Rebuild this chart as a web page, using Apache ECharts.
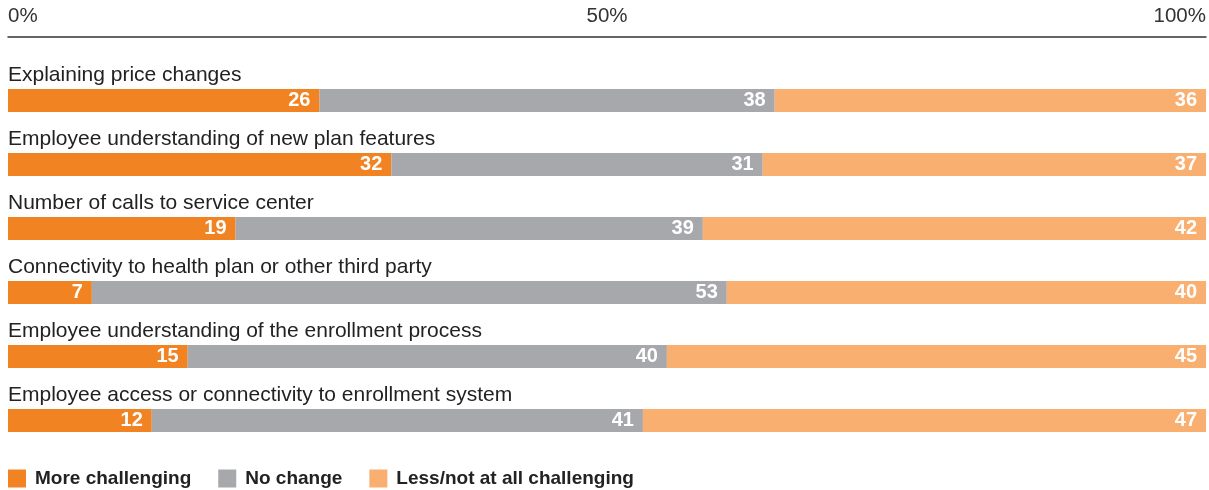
<!DOCTYPE html>
<html><head><meta charset="utf-8">
<script src="https://cdn.jsdelivr.net/npm/echarts@6/dist/echarts.min.js"></script>
<style>html,body{margin:0;padding:0;background:#fff}#c{width:1209px;height:490px}</style>
</head><body><div id="c"></div>
<script>
const categories = [
  "Explaining price changes",
  "Employee understanding of new plan features",
  "Number of calls to service center",
  "Connectivity to health plan or other third party",
  "Employee understanding of the enrollment process",
  "Employee access or connectivity to enrollment system"
];
const seriesNames = ["More challenging", "No change", "Less/not at all challenging"];
const moreChallenging = [26, 32, 19, 7, 15, 12];
const noChange = [38, 31, 39, 53, 40, 41];
const lessChallenging = [36, 37, 42, 40, 45, 47];
const xTicks = [0, 50, 100];
const colors = ["#F28322", "#A7A8AB", "#F9AF70"];

const chart = echarts.init(document.getElementById('c'));
const font = "'Liberation Sans', Arial, sans-serif";
function barSeries(name, data, color) {
  return {
    name, type: 'bar', stack: 'total', data, barWidth: 23,
    itemStyle: { color },
    label: {
      show: true, position: 'insideRight', distance: 9,
      color: '#fff', fontWeight: 'bold', fontSize: 20, fontFamily: font
    },
    emphasis: { disabled: true }
  };
}
chart.setOption({
  animation: false,
  textStyle: { fontFamily: font },
  grid: { left: 8, right: 3, top: 68.5, bottom: 37.5, containLabel: false },
  xAxis: {
    type: 'value', position: 'top', min: 0, max: 100, interval: 50, offset: 31.5,
    axisLine: { show: true, lineStyle: { color: '#333', width: 1.5 } },
    axisTick: { show: false }, splitLine: { show: false },
    axisLabel: {
      formatter: v => xTicks.includes(v) ? v + '%' : '',
      color: '#333', fontSize: 20.5, margin: 10,
      alignMinLabel: 'left', alignMaxLabel: 'right'
    }
  },
  yAxis: {
    type: 'category', data: categories, inverse: true,
    axisLine: { show: false }, axisTick: { show: false },
    axisLabel: {
      inside: true, margin: 0, align: 'left', verticalAlign: 'bottom',
      color: '#222', fontSize: 21, padding: [0, 0, 15, 0]
    }
  },
  legend: {
    left: 3, top: 464, itemWidth: 18, itemHeight: 18, itemGap: 27,
    icon: 'rect',
    textStyle: { color: '#222', fontSize: 19, fontWeight: 'bold', fontFamily: font, padding: [0, 0, 0, 4] },
    data: seriesNames
  },
  series: [
    barSeries(seriesNames[0], moreChallenging, colors[0]),
    barSeries(seriesNames[1], noChange, colors[1]),
    barSeries(seriesNames[2], lessChallenging, colors[2])
  ]
});
</script></body></html>
